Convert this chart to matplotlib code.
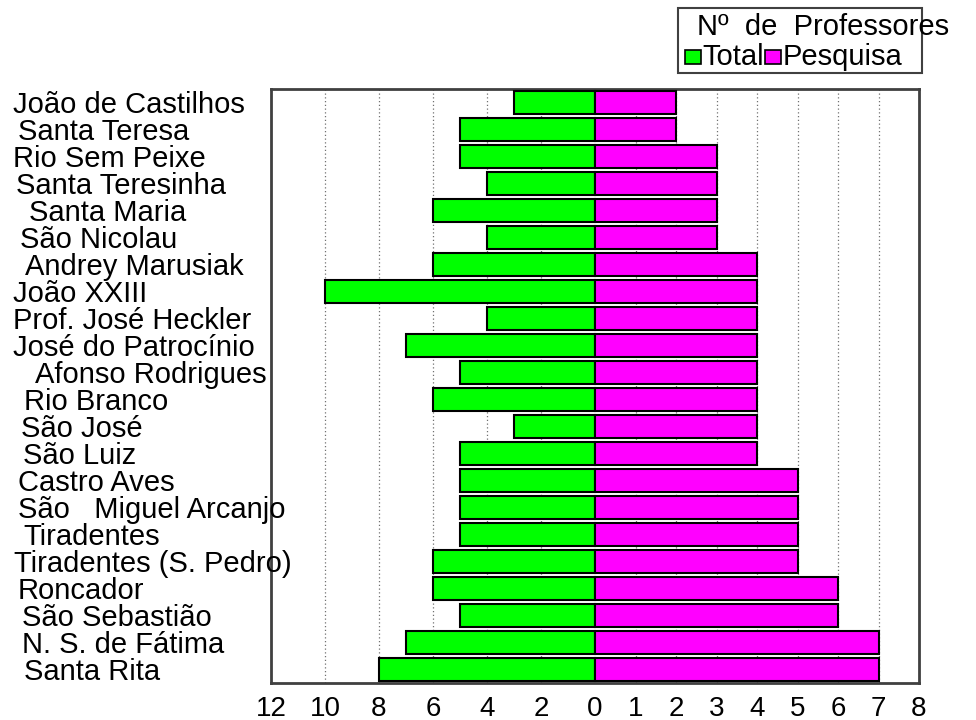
import numpy as np
import matplotlib
matplotlib.use("Agg")
import matplotlib.pyplot as plt
import matplotlib.patches as mpatches
import matplotlib.transforms as mtransforms

plt.rcParams['font.family'] = ['Liberation Sans', 'DejaVu Sans']

# Dados
escolas = ['João de Castilhos', 'Santa Teresa', 'Rio Sem Peixe', 'Santa Teresinha',
           'Santa Maria', 'São Nicolau', 'Andrey Marusiak', 'João XXIII',
           'Prof. José Heckler', 'José do Patrocínio', 'Afonso Rodrigues',
           'Rio Branco', 'São José', 'São Luiz', 'Castro Aves',
           'São   Miguel Arcanjo', 'Tiradentes', 'Tiradentes (S. Pedro)',
           'Roncador', 'São Sebastião', 'N. S. de Fátima', 'Santa Rita']
total = [3, 5, 5, 4, 6, 4, 6, 10, 4, 7, 5, 6, 3, 5, 5, 5, 5, 6, 6, 5, 7, 8]
pesquisa = [2, 2, 3, 3, 3, 3, 4, 4, 4, 4, 4, 4, 4, 4, 5, 5, 5, 5, 6, 6, 7, 7]

ticks_esq = [12, 10, 8, 6, 4, 2, 0]
ticks_dir = [1, 2, 3, 4, 5, 6, 7, 8]
max_esq = 12
max_dir = 8

# recuo horizontal de cada rótulo (pixels), como na figura original
recuo_px = [13, 18, 13, 16, 29, 20, 25, 13, 13, 13, 35,
            24, 21, 23, 18, 18, 23, 14, 18, 22, 22, 24]

verde = '#00ff00'
magenta = '#ff00ff'
W, H = 976, 720

fig = plt.figure(figsize=(W / 100, H / 100), dpi=100)
ax = fig.add_axes([271 / W, 1 - 683 / H, (919 - 271) / W, (683 - 89) / H])

y = np.arange(len(escolas))
x_tot = -np.array(total) / max_esq
x_pes = np.array(pesquisa) / max_dir

ax.barh(y, x_tot, height=0.83, color=verde, edgecolor='black', linewidth=1.5, zorder=3)
ax.barh(y, x_pes, height=0.83, color=magenta, edgecolor='black', linewidth=1.5, zorder=3)

ax.set_xlim(-1, 1)
ax.set_ylim(len(escolas) - 0.5, -0.5)

# grade pontilhada
pos_grade = [-v / max_esq for v in ticks_esq[1:-1]] + [v / max_dir for v in ticks_dir[:-1]]
for g in pos_grade:
    ax.axvline(g, color='#707070', linestyle=(0, (1, 2)), linewidth=0.9, zorder=1)

pos_ticks = [-v / max_esq for v in ticks_esq] + [v / max_dir for v in ticks_dir]
rot_ticks = [str(v) for v in ticks_esq] + [str(v) for v in ticks_dir]
ax.set_xticks(pos_ticks)
ax.set_xticklabels(rot_ticks, fontsize=20)
ax.tick_params(axis='x', length=0, pad=9)
ax.set_yticks([])

for s in ax.spines.values():
    s.set_color('#404040')
    s.set_linewidth(2)

# rótulos das escolas
trans = mtransforms.blended_transform_factory(fig.transFigure, ax.transData)
for i, nome in enumerate(escolas):
    ax.text(recuo_px[i] / W, i + 0.1, nome, transform=trans, ha='left', va='center',
            fontsize=21, clip_on=False)

# legenda desenhada à mão
fig.patches.append(mpatches.Rectangle((678 / W, 1 - 73 / H), (922 - 678) / W, 65 / H,
                                      transform=fig.transFigure, facecolor='white',
                                      edgecolor='#404040', linewidth=1.5))
fig.text(697 / W, 1 - 27 / H, 'Nº  de  Professores', fontsize=21, va='center', ha='left')
fig.patches.append(mpatches.Rectangle((685 / W, 1 - 64 / H), 16 / W, 14 / H,
                                      transform=fig.transFigure, facecolor=verde,
                                      edgecolor='black', linewidth=1.2))
fig.text(702 / W, 1 - 57 / H, 'Total', fontsize=21, va='center', ha='left')
fig.patches.append(mpatches.Rectangle((765 / W, 1 - 64 / H), 16 / W, 14 / H,
                                      transform=fig.transFigure, facecolor=magenta,
                                      edgecolor='black', linewidth=1.2))
fig.text(783 / W, 1 - 57 / H, 'Pesquisa', fontsize=21, va='center', ha='left')

fig.savefig('out.png', dpi=100, facecolor='white')
